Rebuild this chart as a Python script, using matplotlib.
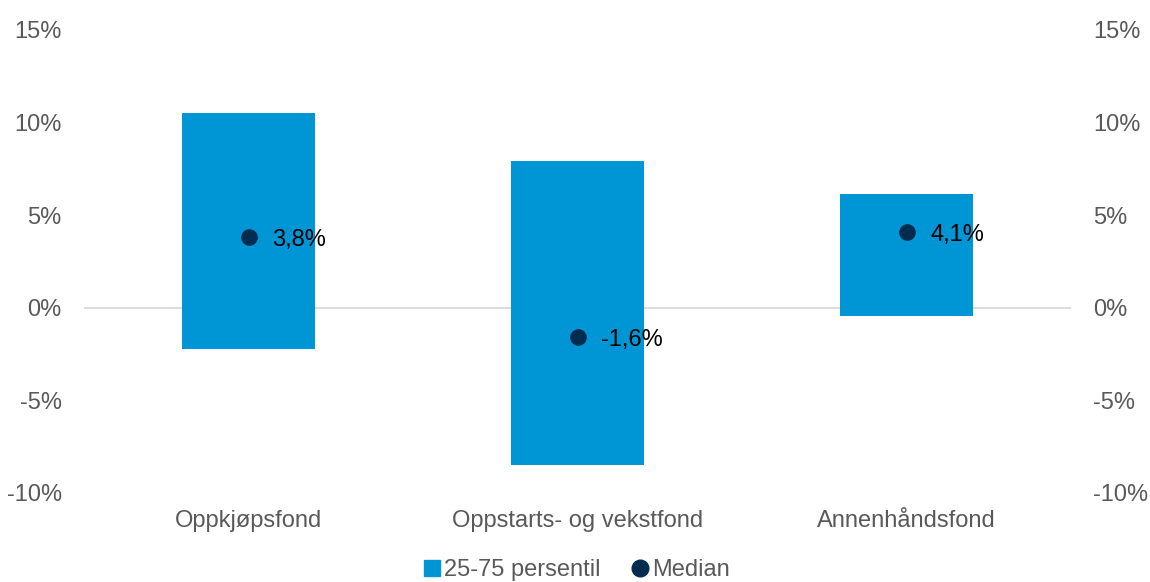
import numpy as np
import matplotlib.pyplot as plt
from matplotlib.lines import Line2D

plt.rcParams['font.family'] = ['Liberation Sans', 'DejaVu Sans']

kategorier = ['Oppkjøpsfond', 'Oppstarts- og vekstfond', 'Annenhåndsfond']
p25 = [-2.2, -8.5, -0.45]
p75 = [10.5, 7.95, 6.15]
median = [3.8, -1.6, 4.1]
median_tekst = ['3,8%', '-1,6%', '4,1%']
yticks = [-10, -5, 0, 5, 10, 15]

blaa = '#0096D6'
moerk = '#002C4F'
graa = '#595959'

fig = plt.figure(figsize=(11.5, 5.82), dpi=100)
ax = fig.add_axes([84/1150, 1-493/582, (1071-84)/1150, (493-30)/582])

x = np.arange(len(kategorier))
hoyde = np.array(p75) - np.array(p25)
ax.bar(x, hoyde, bottom=p25, width=0.405, color=blaa, zorder=2)
ax.axhline(0, color='#DCDCDC', linewidth=1.5, zorder=1)
ax.plot(x, median, 'o', color=moerk, markersize=11, zorder=3)
for xi, m, t in zip(x, median, median_tekst):
    ax.annotate(t, (xi, m), xytext=(17, -2), textcoords='offset points',
                va='center', ha='left', fontsize=17, color='black', zorder=4)

ax.set_xlim(-0.5, 2.5)
ax.set_ylim(-10, 15)
ax.set_yticks(yticks)
ax.set_yticklabels([f'{v}%' for v in yticks])
ax.set_xticks(x)
ax.set_xticklabels(kategorier)
ax.tick_params(axis='y', length=0, pad=16, labelsize=17, labelcolor=graa,
               labelright=True)
ax.tick_params(axis='x', length=0, pad=12, labelsize=17, labelcolor=graa)
for s in ax.spines.values():
    s.set_visible(False)

handles = [Line2D([], [], marker='s', linestyle='none', color=blaa, markersize=11),
           Line2D([], [], marker='o', linestyle='none', color=moerk, markersize=12)]
fig.legend(handles, ['25-75 persentil', 'Median'], loc='lower center',
           bbox_to_anchor=(0.5, -0.035), ncol=2, frameon=False, fontsize=17,
           labelcolor=graa, handletextpad=0.0, columnspacing=1.2, handlelength=1.0)

fig.savefig('out.png', dpi=100)
